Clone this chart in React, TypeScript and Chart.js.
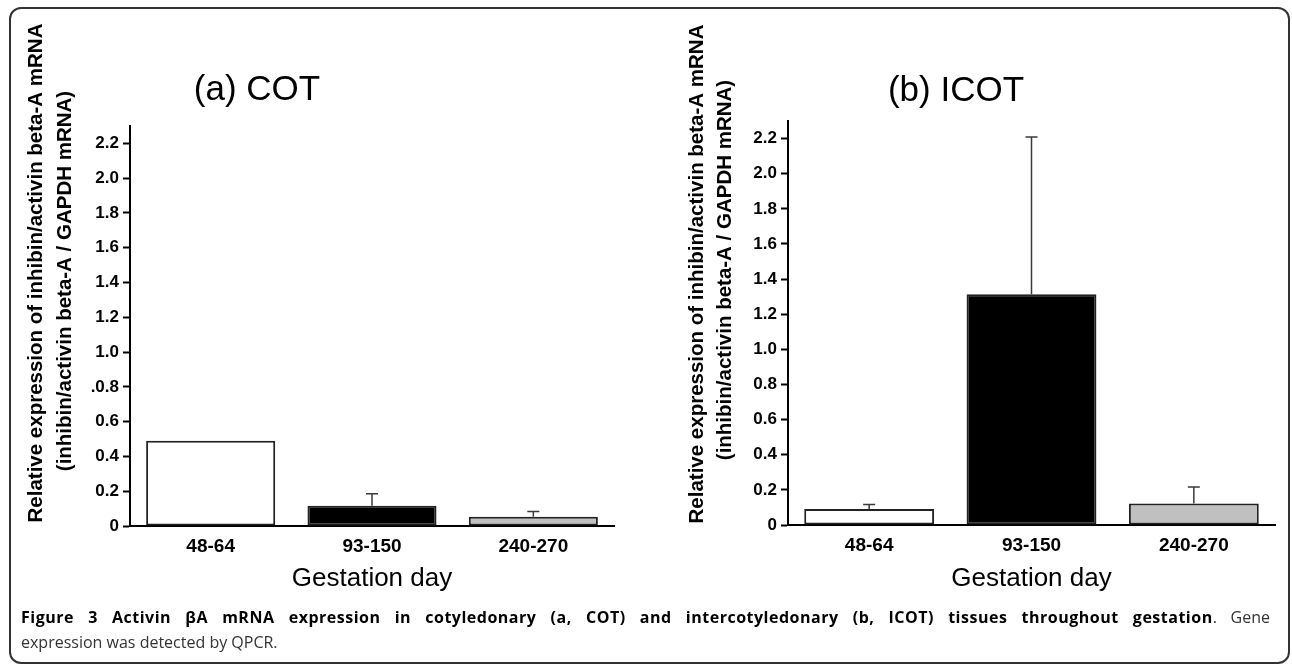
import React, { useEffect, useRef } from "react";
import { Chart, registerables } from "chart.js";

Chart.register(...registerables);

// ---- data ----
const categories = ["48-64", "93-150", "240-270"];
const cotValues = [0.49, 0.117, 0.053];
const cotErrors = [0, 0.068, 0.03];
const icotValues = [0.091, 1.313, 0.122];
const icotErrors = [0.025, 0.896, 0.094];
const barColors = ["#ffffff", "#000000", "#c0c0c0"];
const cotTickLabels = ["0", "0.2", "0.4", "0.6", ".0.8", "1.0", "1.2", "1.4", "1.6", "1.8", "2.0", "2.2"];
const icotTickLabels = ["0", "0.2", "0.4", "0.6", "0.8", "1.0", "1.2", "1.4", "1.6", "1.8", "2.0", "2.2"];
const panelTitles = ["(a) COT", "(b) ICOT"];
const yTitleLines = [
  "Relative expression of inhibin/activin beta-A mRNA",
  "(inhibin/activin beta-A / GAPDH mRNA)",
];
const xTitle = "Gestation day";

const FONT = "Arial, 'Liberation Sans', Helvetica, sans-serif";
const CW = 646;
const CH = 610;

type Layout = {
  pad: { left: number; top: number; right: number; bottom: number };
  titleX: number;
  titleY: number;
  yT1: number;
  yT2: number;
  yTY1: number;
  yTY2: number;
};

function Panel(props: {
  values: number[];
  errors: number[];
  tickLabels: string[];
  title: string;
  layout: Layout;
  left: number;
}) {
  const ref = useRef<HTMLCanvasElement | null>(null);
  useEffect(() => {
    if (!ref.current) return;
    const { values, errors, tickLabels, title, layout } = props;
    const decor = {
      id: "decor",
      afterDatasetsDraw(chart: any) {
        const ctx = chart.ctx;
        const meta = chart.getDatasetMeta(0);
        const ys = chart.scales.y;
        ctx.save();
        ctx.strokeStyle = "#3a3a3a";
        ctx.lineWidth = 1.5;
        errors.forEach((e, i) => {
          if (!e) return;
          const bar = meta.data[i];
          const y0 = ys.getPixelForValue(values[i]);
          const y1 = ys.getPixelForValue(values[i] + e);
          ctx.beginPath();
          ctx.moveTo(bar.x, y0);
          ctx.lineTo(bar.x, y1);
          ctx.moveTo(bar.x - 6, y1);
          ctx.lineTo(bar.x + 6, y1);
          ctx.stroke();
        });
        ctx.restore();
      },
      afterDraw(chart: any) {
        const ctx = chart.ctx;
        const area = chart.chartArea;
        ctx.save();
        ctx.fillStyle = "#000";
        // panel title
        ctx.font = `35px ${FONT}`;
        ctx.textAlign = "center";
        ctx.textBaseline = "alphabetic";
        ctx.fillText(title, layout.titleX, layout.titleY);
        // x title
        ctx.font = `26px ${FONT}`;
        ctx.fillText(xTitle, (area.left + area.right) / 2, 586);
        // y title (two lines, rotated)
        ctx.font = `bold 20.5px ${FONT}`;
        ctx.textBaseline = "middle";
        const pos = [
          [layout.yT1, layout.yTY1],
          [layout.yT2, layout.yTY2],
        ];
        pos.forEach(([x, y], i) => {
          ctx.save();
          ctx.translate(x, y);
          ctx.rotate(-Math.PI / 2);
          ctx.fillText(yTitleLines[i], 0, 0);
          ctx.restore();
        });
        ctx.restore();
      },
    };
    const chart = new Chart(ref.current, {
      type: "bar",
      data: {
        labels: categories,
        datasets: [
          {
            data: values,
            backgroundColor: barColors,
            borderColor: "#222",
            borderWidth: 2,
            borderSkipped: false,
            barPercentage: 0.8,
            categoryPercentage: 1.0,
          },
        ],
      },
      options: {
        responsive: false,
        animation: false,
        devicePixelRatio: 1,
        layout: { padding: layout.pad },
        plugins: { legend: { display: false }, tooltip: { enabled: false }, title: { display: false } },
        scales: {
          x: {
            type: "category",
            grid: { display: false, drawTicks: false },
            border: { display: true, color: "#000", width: 2 },
            ticks: { color: "#000", padding: 9, font: { family: FONT, size: 19, weight: "bold" } },
            afterFit: (s: any) => {
              s.height = 50;
            },
          },
          y: {
            type: "linear",
            min: 0,
            max: 2.3,
            grid: { display: true, drawOnChartArea: false, drawTicks: true, tickLength: 7, tickWidth: 2, tickColor: "#000" },
            border: { display: true, color: "#000", width: 2 },
            ticks: {
              stepSize: 0.2,
              includeBounds: false,
              color: "#000",
              padding: 4,
              font: { family: FONT, size: 17, weight: "bold" },
              callback: (_v: any, i: number) => tickLabels[i],
            },
            afterFit: (s: any) => {
              s.width = 60;
            },
          },
        },
      },
      plugins: [decor],
    } as any);
    return () => chart.destroy();
  }, []);
  return (
    <canvas
      ref={ref}
      width={CW}
      height={CH}
      style={{ position: "absolute", left: props.left, top: 0, width: CW, height: CH }}
    />
  );
}

const leftLayout: Layout = {
  pad: { left: 70, top: 126, right: 32, bottom: 34 },
  titleX: 257,
  titleY: 100,
  yT1: 36,
  yT2: 65,
  yTY1: 273,
  yTY2: 281,
};
const rightLayout: Layout = {
  pad: { left: 82, top: 121, right: 17, bottom: 35 },
  titleX: 310,
  titleY: 101,
  yT1: 51,
  yT2: 79,
  yTY1: 274,
  yTY2: 270,
};

export default function App() {
  return (
    <div
      style={{
        position: "absolute",
        left: 0,
        top: 0,
        width: 1292,
        height: 666,
        background: "#fff",
        overflow: "hidden",
      }}
    >
      <div
        style={{
          position: "absolute",
          left: 9,
          top: 7,
          width: 1281,
          height: 657,
          boxSizing: "border-box",
          border: "2px solid #333",
          borderRadius: 12,
        }}
      />
      <Panel values={cotValues} errors={cotErrors} tickLabels={cotTickLabels} title={panelTitles[0]} layout={leftLayout} left={0} />
      <Panel values={icotValues} errors={icotErrors} tickLabels={icotTickLabels} title={panelTitles[1]} layout={rightLayout} left={646} />
      <div
        style={{
          position: "absolute",
          left: 21,
          top: 605,
          width: 1249,
          fontFamily: "'Open Sans', 'Noto Sans', sans-serif",
          fontSize: 16,
          lineHeight: "25px",
          color: "#333",
        }}
      >
        <div style={{ textAlign: "justify", textAlignLast: "justify" }}>
          <b style={{ color: "#000", letterSpacing: "0.5px" }}>
            Figure 3 Activin βA mRNA expression in cotyledonary (a, COT) and intercotyledonary (b, ICOT) tissues throughout gestation
          </b>
          . Gene
        </div>
        <div>expression was detected by QPCR.</div>
      </div>
    </div>
  );
}
